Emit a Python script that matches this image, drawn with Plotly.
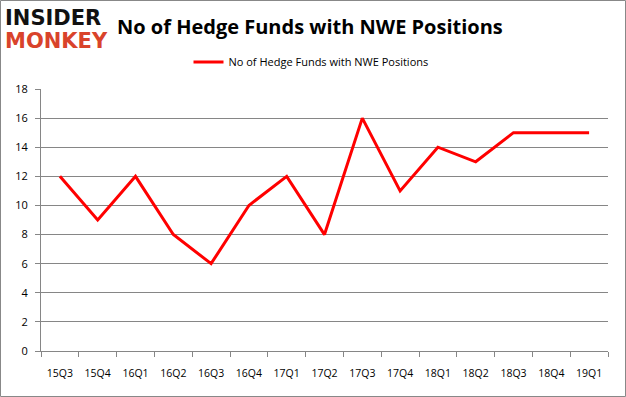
import plotly.graph_objects as go

quarters = ["15Q3", "15Q4", "16Q1", "16Q2", "16Q3", "16Q4", "17Q1", "17Q2",
            "17Q3", "17Q4", "18Q1", "18Q2", "18Q3", "18Q4", "19Q1"]
hedge_funds = [12, 9, 12, 8, 6, 10, 12, 8, 16, 11, 14, 13, 15, 15, 15]
y_ticks = [0, 2, 4, 6, 8, 10, 12, 14, 16, 18]

W, H = 626, 397
L, R, T, B = 41, 18, 89, 46
pw, ph = W - L - R, H - T - B

def px_x(p):
    return (p - L) / pw

def px_y(p):
    return (H - B - p) / ph

fig = go.Figure()
fig.add_trace(go.Scatter(
    x=quarters, y=hedge_funds, mode="lines",
    line=dict(color="#FF0000", width=3),
    name="No of Hedge Funds with NWE Positions",
))

fig.update_layout(
    width=W, height=H,
    margin=dict(l=L, r=R, t=T, b=B, autoexpand=False),
    paper_bgcolor="white", plot_bgcolor="white",
    font=dict(family="Open Sans", size=10, color="#000000"),
    showlegend=True,
    legend=dict(orientation="h", x=px_x(311), y=px_y(62), xanchor="center", yanchor="middle",
                font=dict(size=11, family="Open Sans"), bgcolor="rgba(0,0,0,0)"),
    xaxis=dict(type="category", tickson="boundaries", ticks="outside", ticklen=5,
               tickcolor="#868686", showgrid=False, showline=True, linecolor="#868686",
               linewidth=1, tickfont=dict(size=10.5), range=[-0.5, 14.5], tickangle=0,
               automargin=False, ticklabelstandoff=12),
    yaxis=dict(range=[0, 18], tickvals=y_ticks, ticks="outside", ticklen=5,
               tickcolor="#868686", showgrid=True, gridcolor="#868686", gridwidth=1,
               showline=True, linecolor="#868686", linewidth=1, zeroline=False,
               automargin=False, tickfont=dict(size=11), ticklabelstandoff=5),
    shapes=[dict(type="rect", xref="paper", yref="paper",
                 x0=px_x(0.5), x1=px_x(625.5), y0=px_y(396.5), y1=px_y(0.5),
                 line=dict(color="#888888", width=1), fillcolor="rgba(0,0,0,0)", layer="below")],
    annotations=[
        dict(text="<b>No of Hedge Funds with NWE Positions</b>", xref="paper", yref="paper",
             x=px_x(115), y=px_y(27), xanchor="left", yanchor="middle", showarrow=False,
             font=dict(size=20, family="Open Sans", color="#000000")),
        dict(text="<b>INSIDER</b>", xref="paper", yref="paper",
             x=px_x(3), y=px_y(18), xanchor="left", yanchor="middle", showarrow=False,
             font=dict(size=21, family="DejaVu Sans", color="#111111")),
        dict(text="<b>MONKEY</b>", xref="paper", yref="paper",
             x=px_x(3), y=px_y(41), xanchor="left", yanchor="middle", showarrow=False,
             font=dict(size=21, family="DejaVu Sans", color="#D9432B")),
    ],
)

fig.write_html("out.html", config={"displayModeBar": False},
               post_script="document.body.style.margin='0';")
